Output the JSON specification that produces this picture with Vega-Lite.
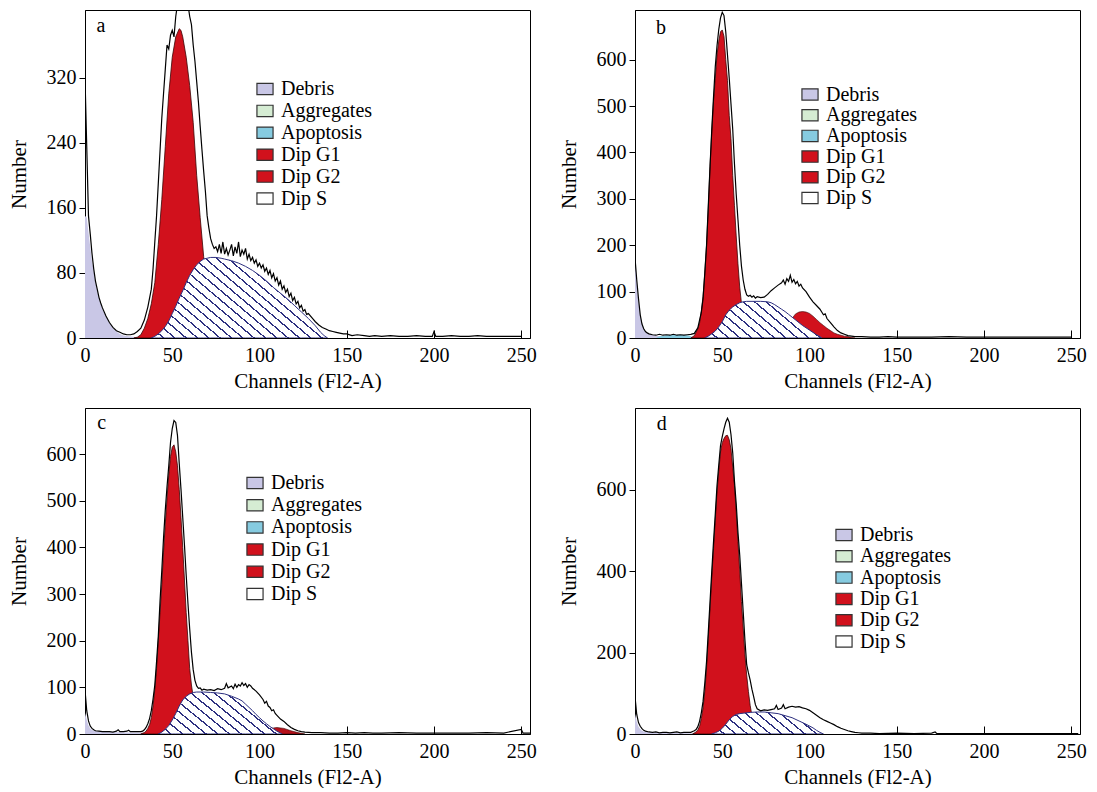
{
"$schema": "https://vega.github.io/schema/vega-lite/v6.json",
"background": "white",
"padding": {"left": 7, "top": 9, "right": 5, "bottom": 0},
"datasets": {
"a_tot": [{"ch":0,"n":320},{"ch":1,"n":235},{"ch":2,"n":150},{"ch":3,"n":128},{"ch":4,"n":104},{"ch":5,"n":85},{"ch":6,"n":70},{"ch":7,"n":60},{"ch":8,"n":50},{"ch":9,"n":43},{"ch":10,"n":37},{"ch":12,"n":27},{"ch":14,"n":19},{"ch":16,"n":13},{"ch":18,"n":9},{"ch":20,"n":7},{"ch":22,"n":5},{"ch":24,"n":4},{"ch":26,"n":4},{"ch":28,"n":5},{"ch":30,"n":8},{"ch":32,"n":12},{"ch":34,"n":22},{"ch":36,"n":38},{"ch":38,"n":60},{"ch":39,"n":85},{"ch":40,"n":118},{"ch":41,"n":150},{"ch":42,"n":190},{"ch":43,"n":230},{"ch":44,"n":270},{"ch":45,"n":300},{"ch":46,"n":330},{"ch":47,"n":360},{"ch":48,"n":355},{"ch":49,"n":372},{"ch":50,"n":378},{"ch":51,"n":370},{"ch":52,"n":395},{"ch":53,"n":410},{"ch":54,"n":415},{"ch":56,"n":415},{"ch":58,"n":415},{"ch":59,"n":410},{"ch":60,"n":395},{"ch":61,"n":385},{"ch":62,"n":360},{"ch":63,"n":340},{"ch":64,"n":315},{"ch":65,"n":290},{"ch":66,"n":260},{"ch":67,"n":232},{"ch":68,"n":205},{"ch":69,"n":180},{"ch":70,"n":150},{"ch":71,"n":135},{"ch":72,"n":122},{"ch":73,"n":115},{"ch":74,"n":110},{"ch":75,"n":112},{"ch":76,"n":106},{"ch":77,"n":115},{"ch":78,"n":104},{"ch":79,"n":118},{"ch":80,"n":103},{"ch":81,"n":110},{"ch":82,"n":102},{"ch":83,"n":108},{"ch":84,"n":115},{"ch":85,"n":101},{"ch":86,"n":112},{"ch":87,"n":104},{"ch":88,"n":118},{"ch":89,"n":100},{"ch":90,"n":108},{"ch":91,"n":103},{"ch":92,"n":110},{"ch":93,"n":97},{"ch":94,"n":103},{"ch":95,"n":95},{"ch":96,"n":99},{"ch":97,"n":92},{"ch":98,"n":96},{"ch":99,"n":88},{"ch":100,"n":92},{"ch":101,"n":86},{"ch":102,"n":90},{"ch":103,"n":82},{"ch":104,"n":86},{"ch":105,"n":78},{"ch":106,"n":83},{"ch":107,"n":74},{"ch":108,"n":79},{"ch":109,"n":70},{"ch":110,"n":74},{"ch":111,"n":65},{"ch":112,"n":70},{"ch":113,"n":60},{"ch":114,"n":64},{"ch":115,"n":56},{"ch":116,"n":60},{"ch":117,"n":51},{"ch":118,"n":55},{"ch":119,"n":46},{"ch":120,"n":50},{"ch":121,"n":42},{"ch":122,"n":45},{"ch":123,"n":37},{"ch":124,"n":40},{"ch":125,"n":33},{"ch":126,"n":35},{"ch":127,"n":29},{"ch":128,"n":30},{"ch":130,"n":25},{"ch":132,"n":20},{"ch":134,"n":16},{"ch":136,"n":13},{"ch":138,"n":11},{"ch":140,"n":9},{"ch":142,"n":8},{"ch":144,"n":7},{"ch":146,"n":6},{"ch":148,"n":5},{"ch":150,"n":5},{"ch":153,"n":3},{"ch":156,"n":4},{"ch":160,"n":3},{"ch":163,"n":2},{"ch":166,"n":3},{"ch":170,"n":2},{"ch":175,"n":3},{"ch":180,"n":2},{"ch":185,"n":2},{"ch":190,"n":3},{"ch":195,"n":2},{"ch":199,"n":2},{"ch":200,"n":8},{"ch":201,"n":2},{"ch":205,"n":2},{"ch":210,"n":3},{"ch":215,"n":2},{"ch":220,"n":2},{"ch":225,"n":3},{"ch":230,"n":2},{"ch":235,"n":2},{"ch":240,"n":2},{"ch":245,"n":2},{"ch":250,"n":2}],
"a_deb": [{"ch":0,"n":150},{"ch":1,"n":148},{"ch":2,"n":130},{"ch":3,"n":112},{"ch":4,"n":95},{"ch":5,"n":82},{"ch":6,"n":68},{"ch":7,"n":58},{"ch":8,"n":49},{"ch":9,"n":42},{"ch":10,"n":36},{"ch":12,"n":26},{"ch":14,"n":18},{"ch":16,"n":12},{"ch":18,"n":8},{"ch":20,"n":5},{"ch":22,"n":3},{"ch":25,"n":2},{"ch":30,"n":1},{"ch":35,"n":0}],
"a_g1": [{"ch":28,"n":0},{"ch":30,"n":1},{"ch":32,"n":4},{"ch":34,"n":12},{"ch":36,"n":24},{"ch":38,"n":42},{"ch":40,"n":68},{"ch":42,"n":115},{"ch":44,"n":170},{"ch":46,"n":235},{"ch":48,"n":300},{"ch":50,"n":345},{"ch":52,"n":370},{"ch":54,"n":380},{"ch":55,"n":378},{"ch":56,"n":370},{"ch":58,"n":345},{"ch":60,"n":310},{"ch":62,"n":265},{"ch":64,"n":200},{"ch":66,"n":148},{"ch":68,"n":100},{"ch":70,"n":60},{"ch":72,"n":35},{"ch":74,"n":18},{"ch":76,"n":8},{"ch":78,"n":3},{"ch":80,"n":0}],
"a_s": [{"ch":38,"n":0},{"ch":40,"n":2},{"ch":42,"n":5},{"ch":44,"n":9},{"ch":46,"n":14},{"ch":48,"n":21},{"ch":50,"n":30},{"ch":52,"n":39},{"ch":54,"n":49},{"ch":56,"n":58},{"ch":58,"n":68},{"ch":60,"n":77},{"ch":62,"n":84},{"ch":64,"n":90},{"ch":66,"n":94},{"ch":68,"n":97},{"ch":70,"n":98},{"ch":72,"n":99},{"ch":75,"n":99},{"ch":78,"n":98},{"ch":80,"n":97},{"ch":84,"n":95},{"ch":88,"n":92},{"ch":92,"n":88},{"ch":96,"n":83},{"ch":100,"n":77},{"ch":104,"n":70},{"ch":108,"n":62},{"ch":112,"n":55},{"ch":116,"n":48},{"ch":120,"n":40},{"ch":124,"n":32},{"ch":128,"n":24},{"ch":132,"n":15},{"ch":135,"n":7},{"ch":137,"n":3},{"ch":139,"n":0}],
"b_tot": [{"ch":0,"n":173},{"ch":1,"n":125},{"ch":2,"n":85},{"ch":3,"n":50},{"ch":4,"n":30},{"ch":5,"n":20},{"ch":6,"n":14},{"ch":7,"n":11},{"ch":8,"n":9},{"ch":10,"n":7},{"ch":12,"n":6},{"ch":14,"n":8},{"ch":16,"n":6},{"ch":18,"n":7},{"ch":20,"n":6},{"ch":22,"n":8},{"ch":24,"n":6},{"ch":26,"n":7},{"ch":28,"n":6},{"ch":30,"n":7},{"ch":32,"n":8},{"ch":34,"n":10},{"ch":36,"n":22},{"ch":38,"n":55},{"ch":39,"n":85},{"ch":40,"n":140},{"ch":41,"n":200},{"ch":42,"n":285},{"ch":43,"n":370},{"ch":44,"n":450},{"ch":45,"n":520},{"ch":46,"n":585},{"ch":47,"n":630},{"ch":48,"n":665},{"ch":49,"n":690},{"ch":50,"n":702},{"ch":51,"n":695},{"ch":52,"n":660},{"ch":53,"n":610},{"ch":54,"n":560},{"ch":55,"n":505},{"ch":56,"n":450},{"ch":57,"n":375},{"ch":58,"n":310},{"ch":59,"n":255},{"ch":60,"n":200},{"ch":61,"n":155},{"ch":62,"n":125},{"ch":63,"n":105},{"ch":64,"n":93},{"ch":65,"n":90},{"ch":66,"n":92},{"ch":67,"n":88},{"ch":68,"n":91},{"ch":69,"n":86},{"ch":70,"n":89},{"ch":72,"n":87},{"ch":74,"n":88},{"ch":76,"n":94},{"ch":78,"n":102},{"ch":80,"n":108},{"ch":82,"n":114},{"ch":84,"n":119},{"ch":85,"n":125},{"ch":86,"n":116},{"ch":87,"n":128},{"ch":88,"n":122},{"ch":89,"n":135},{"ch":90,"n":120},{"ch":91,"n":126},{"ch":92,"n":117},{"ch":93,"n":122},{"ch":94,"n":112},{"ch":95,"n":116},{"ch":96,"n":108},{"ch":98,"n":100},{"ch":100,"n":88},{"ch":102,"n":78},{"ch":104,"n":70},{"ch":106,"n":62},{"ch":107,"n":56},{"ch":108,"n":50},{"ch":109,"n":52},{"ch":110,"n":42},{"ch":112,"n":33},{"ch":114,"n":24},{"ch":116,"n":16},{"ch":118,"n":11},{"ch":120,"n":8},{"ch":122,"n":5},{"ch":124,"n":4},{"ch":126,"n":3},{"ch":130,"n":3},{"ch":135,"n":2},{"ch":140,"n":2},{"ch":145,"n":3},{"ch":150,"n":2},{"ch":160,"n":2},{"ch":170,"n":2},{"ch":180,"n":3},{"ch":190,"n":2},{"ch":200,"n":2},{"ch":210,"n":2},{"ch":220,"n":2},{"ch":230,"n":2},{"ch":240,"n":2},{"ch":250,"n":2}],
"b_deb": [{"ch":0,"n":170},{"ch":1,"n":120},{"ch":2,"n":80},{"ch":3,"n":50},{"ch":4,"n":30},{"ch":5,"n":20},{"ch":6,"n":14},{"ch":7,"n":11},{"ch":8,"n":9},{"ch":10,"n":7},{"ch":12,"n":5},{"ch":15,"n":4},{"ch":20,"n":3},{"ch":25,"n":2},{"ch":30,"n":1},{"ch":35,"n":0}],
"b_apo": [{"ch":12,"n":0},{"ch":14,"n":4},{"ch":18,"n":6},{"ch":22,"n":7},{"ch":26,"n":7},{"ch":30,"n":6},{"ch":32,"n":4},{"ch":34,"n":0}],
"b_g1": [{"ch":32,"n":0},{"ch":34,"n":5},{"ch":36,"n":20},{"ch":37,"n":32},{"ch":38,"n":58},{"ch":39,"n":90},{"ch":40,"n":140},{"ch":41,"n":200},{"ch":42,"n":280},{"ch":43,"n":370},{"ch":44,"n":445},{"ch":45,"n":510},{"ch":46,"n":560},{"ch":47,"n":610},{"ch":48,"n":640},{"ch":49,"n":660},{"ch":50,"n":664},{"ch":51,"n":650},{"ch":52,"n":600},{"ch":53,"n":555},{"ch":54,"n":480},{"ch":55,"n":430},{"ch":56,"n":350},{"ch":57,"n":285},{"ch":58,"n":220},{"ch":59,"n":160},{"ch":60,"n":110},{"ch":61,"n":75},{"ch":62,"n":50},{"ch":64,"n":25},{"ch":66,"n":10},{"ch":68,"n":3},{"ch":70,"n":0}],
"b_g2": [{"ch":86,"n":0},{"ch":88,"n":30},{"ch":90,"n":42},{"ch":92,"n":52},{"ch":94,"n":56},{"ch":96,"n":57},{"ch":98,"n":56},{"ch":100,"n":53},{"ch":102,"n":47},{"ch":104,"n":40},{"ch":106,"n":33},{"ch":108,"n":27},{"ch":110,"n":21},{"ch":112,"n":16},{"ch":114,"n":11},{"ch":116,"n":8},{"ch":118,"n":6},{"ch":120,"n":4},{"ch":122,"n":3},{"ch":124,"n":1},{"ch":126,"n":0}],
"b_s": [{"ch":40,"n":0},{"ch":42,"n":4},{"ch":44,"n":9},{"ch":46,"n":15},{"ch":48,"n":24},{"ch":50,"n":35},{"ch":52,"n":50},{"ch":54,"n":60},{"ch":56,"n":67},{"ch":58,"n":72},{"ch":60,"n":76},{"ch":62,"n":78},{"ch":64,"n":79},{"ch":68,"n":79},{"ch":72,"n":79},{"ch":76,"n":78},{"ch":78,"n":76},{"ch":80,"n":72},{"ch":82,"n":67},{"ch":84,"n":62},{"ch":86,"n":57},{"ch":88,"n":51},{"ch":90,"n":45},{"ch":92,"n":39},{"ch":94,"n":33},{"ch":96,"n":27},{"ch":98,"n":22},{"ch":100,"n":17},{"ch":102,"n":12},{"ch":104,"n":7},{"ch":106,"n":3},{"ch":107,"n":0}],
"c_tot": [{"ch":0,"n":94},{"ch":1,"n":50},{"ch":2,"n":28},{"ch":3,"n":17},{"ch":4,"n":12},{"ch":5,"n":9},{"ch":6,"n":7},{"ch":8,"n":6},{"ch":10,"n":5},{"ch":12,"n":5},{"ch":14,"n":5},{"ch":16,"n":4},{"ch":18,"n":6},{"ch":19,"n":9},{"ch":20,"n":5},{"ch":22,"n":5},{"ch":24,"n":6},{"ch":25,"n":8},{"ch":26,"n":5},{"ch":28,"n":5},{"ch":30,"n":5},{"ch":32,"n":5},{"ch":33,"n":6},{"ch":34,"n":9},{"ch":35,"n":14},{"ch":36,"n":22},{"ch":37,"n":33},{"ch":38,"n":50},{"ch":39,"n":75},{"ch":40,"n":105},{"ch":41,"n":155},{"ch":42,"n":210},{"ch":43,"n":285},{"ch":44,"n":350},{"ch":45,"n":420},{"ch":46,"n":480},{"ch":47,"n":530},{"ch":48,"n":575},{"ch":49,"n":625},{"ch":50,"n":655},{"ch":51,"n":672},{"ch":52,"n":668},{"ch":53,"n":640},{"ch":54,"n":580},{"ch":55,"n":525},{"ch":56,"n":465},{"ch":57,"n":405},{"ch":58,"n":340},{"ch":59,"n":280},{"ch":60,"n":225},{"ch":61,"n":175},{"ch":62,"n":138},{"ch":63,"n":115},{"ch":64,"n":103},{"ch":65,"n":98},{"ch":66,"n":99},{"ch":67,"n":94},{"ch":68,"n":96},{"ch":70,"n":94},{"ch":72,"n":95},{"ch":74,"n":93},{"ch":76,"n":97},{"ch":78,"n":95},{"ch":80,"n":98},{"ch":81,"n":108},{"ch":82,"n":99},{"ch":84,"n":103},{"ch":85,"n":97},{"ch":86,"n":107},{"ch":87,"n":100},{"ch":88,"n":106},{"ch":89,"n":103},{"ch":90,"n":110},{"ch":91,"n":104},{"ch":92,"n":108},{"ch":93,"n":100},{"ch":94,"n":106},{"ch":95,"n":103},{"ch":96,"n":98},{"ch":98,"n":92},{"ch":100,"n":84},{"ch":102,"n":74},{"ch":103,"n":66},{"ch":104,"n":70},{"ch":105,"n":60},{"ch":106,"n":57},{"ch":107,"n":50},{"ch":108,"n":52},{"ch":109,"n":44},{"ch":110,"n":40},{"ch":112,"n":32},{"ch":114,"n":27},{"ch":116,"n":20},{"ch":118,"n":14},{"ch":120,"n":10},{"ch":122,"n":7},{"ch":124,"n":5},{"ch":126,"n":4},{"ch":130,"n":3},{"ch":135,"n":3},{"ch":140,"n":2},{"ch":145,"n":2},{"ch":150,"n":3},{"ch":155,"n":2},{"ch":160,"n":3},{"ch":165,"n":2},{"ch":170,"n":2},{"ch":180,"n":3},{"ch":190,"n":2},{"ch":200,"n":2},{"ch":210,"n":2},{"ch":220,"n":2},{"ch":230,"n":3},{"ch":240,"n":2},{"ch":250,"n":10},{"ch":251,"n":2},{"ch":255,"n":2}],
"c_deb": [{"ch":0,"n":45},{"ch":1,"n":30},{"ch":2,"n":18},{"ch":3,"n":12},{"ch":4,"n":9},{"ch":5,"n":7},{"ch":7,"n":6},{"ch":10,"n":5},{"ch":15,"n":4},{"ch":20,"n":4},{"ch":25,"n":3},{"ch":30,"n":3},{"ch":35,"n":2},{"ch":40,"n":1},{"ch":45,"n":0}],
"c_g1": [{"ch":32,"n":0},{"ch":34,"n":3},{"ch":35,"n":6},{"ch":36,"n":12},{"ch":37,"n":20},{"ch":38,"n":35},{"ch":39,"n":60},{"ch":40,"n":95},{"ch":41,"n":140},{"ch":42,"n":200},{"ch":43,"n":260},{"ch":44,"n":320},{"ch":45,"n":390},{"ch":46,"n":450},{"ch":47,"n":505},{"ch":48,"n":555},{"ch":49,"n":595},{"ch":50,"n":615},{"ch":51,"n":620},{"ch":52,"n":605},{"ch":53,"n":575},{"ch":54,"n":525},{"ch":55,"n":465},{"ch":56,"n":400},{"ch":57,"n":330},{"ch":58,"n":260},{"ch":59,"n":200},{"ch":60,"n":140},{"ch":61,"n":105},{"ch":62,"n":80},{"ch":64,"n":40},{"ch":66,"n":15},{"ch":68,"n":5},{"ch":70,"n":0}],
"c_g2": [{"ch":96,"n":0},{"ch":100,"n":5},{"ch":104,"n":10},{"ch":108,"n":13},{"ch":110,"n":14},{"ch":114,"n":12},{"ch":118,"n":7},{"ch":122,"n":3},{"ch":126,"n":0}],
"c_s": [{"ch":42,"n":0},{"ch":44,"n":4},{"ch":46,"n":10},{"ch":48,"n":18},{"ch":50,"n":30},{"ch":52,"n":44},{"ch":54,"n":60},{"ch":56,"n":73},{"ch":58,"n":81},{"ch":60,"n":86},{"ch":62,"n":89},{"ch":64,"n":90},{"ch":68,"n":90},{"ch":72,"n":89},{"ch":76,"n":88},{"ch":80,"n":86},{"ch":84,"n":81},{"ch":88,"n":75},{"ch":90,"n":71},{"ch":92,"n":64},{"ch":94,"n":57},{"ch":96,"n":50},{"ch":98,"n":42},{"ch":100,"n":35},{"ch":102,"n":28},{"ch":104,"n":22},{"ch":106,"n":16},{"ch":108,"n":11},{"ch":110,"n":6},{"ch":112,"n":2},{"ch":113,"n":0}],
"d_tot": [{"ch":0,"n":92},{"ch":1,"n":48},{"ch":2,"n":28},{"ch":3,"n":19},{"ch":4,"n":13},{"ch":5,"n":9},{"ch":6,"n":7},{"ch":8,"n":5},{"ch":10,"n":4},{"ch":12,"n":5},{"ch":14,"n":3},{"ch":16,"n":4},{"ch":18,"n":4},{"ch":20,"n":3},{"ch":22,"n":4},{"ch":24,"n":5},{"ch":26,"n":3},{"ch":28,"n":4},{"ch":30,"n":4},{"ch":32,"n":4},{"ch":33,"n":6},{"ch":34,"n":8},{"ch":35,"n":11},{"ch":36,"n":18},{"ch":37,"n":31},{"ch":38,"n":52},{"ch":39,"n":80},{"ch":40,"n":125},{"ch":41,"n":178},{"ch":42,"n":250},{"ch":43,"n":325},{"ch":44,"n":400},{"ch":45,"n":472},{"ch":46,"n":540},{"ch":47,"n":610},{"ch":48,"n":660},{"ch":49,"n":708},{"ch":50,"n":730},{"ch":51,"n":749},{"ch":52,"n":765},{"ch":53,"n":775},{"ch":54,"n":765},{"ch":55,"n":735},{"ch":56,"n":690},{"ch":57,"n":620},{"ch":58,"n":565},{"ch":59,"n":495},{"ch":60,"n":440},{"ch":61,"n":370},{"ch":62,"n":300},{"ch":63,"n":230},{"ch":64,"n":170},{"ch":65,"n":150},{"ch":66,"n":132},{"ch":67,"n":110},{"ch":68,"n":92},{"ch":69,"n":72},{"ch":70,"n":62},{"ch":72,"n":57},{"ch":74,"n":59},{"ch":76,"n":58},{"ch":78,"n":60},{"ch":80,"n":62},{"ch":81,"n":70},{"ch":82,"n":60},{"ch":84,"n":64},{"ch":85,"n":72},{"ch":86,"n":62},{"ch":88,"n":66},{"ch":90,"n":68},{"ch":92,"n":66},{"ch":94,"n":67},{"ch":96,"n":64},{"ch":98,"n":62},{"ch":100,"n":58},{"ch":102,"n":52},{"ch":104,"n":46},{"ch":106,"n":40},{"ch":108,"n":35},{"ch":110,"n":31},{"ch":112,"n":27},{"ch":114,"n":23},{"ch":116,"n":18},{"ch":118,"n":14},{"ch":120,"n":11},{"ch":122,"n":8},{"ch":124,"n":6},{"ch":126,"n":4},{"ch":128,"n":3},{"ch":130,"n":2},{"ch":135,"n":2},{"ch":140,"n":1},{"ch":150,"n":2},{"ch":160,"n":1},{"ch":170,"n":2},{"ch":172,"n":5},{"ch":173,"n":1},{"ch":180,"n":1},{"ch":190,"n":1},{"ch":200,"n":1},{"ch":210,"n":1},{"ch":220,"n":1},{"ch":230,"n":1},{"ch":240,"n":1},{"ch":250,"n":1},{"ch":254,"n":1}],
"d_deb": [{"ch":0,"n":50},{"ch":1,"n":30},{"ch":2,"n":18},{"ch":3,"n":12},{"ch":4,"n":8},{"ch":5,"n":6},{"ch":7,"n":5},{"ch":10,"n":4},{"ch":15,"n":3},{"ch":20,"n":3},{"ch":30,"n":2},{"ch":40,"n":1},{"ch":45,"n":0}],
"d_g1": [{"ch":33,"n":0},{"ch":35,"n":5},{"ch":36,"n":10},{"ch":37,"n":19},{"ch":38,"n":38},{"ch":39,"n":64},{"ch":40,"n":105},{"ch":41,"n":162},{"ch":42,"n":235},{"ch":43,"n":308},{"ch":44,"n":385},{"ch":45,"n":455},{"ch":46,"n":525},{"ch":47,"n":594},{"ch":48,"n":645},{"ch":49,"n":692},{"ch":50,"n":715},{"ch":51,"n":725},{"ch":52,"n":732},{"ch":53,"n":733},{"ch":54,"n":722},{"ch":55,"n":700},{"ch":56,"n":655},{"ch":57,"n":610},{"ch":58,"n":545},{"ch":59,"n":472},{"ch":60,"n":400},{"ch":61,"n":325},{"ch":62,"n":260},{"ch":63,"n":194},{"ch":64,"n":145},{"ch":65,"n":104},{"ch":66,"n":70},{"ch":67,"n":45},{"ch":68,"n":28},{"ch":70,"n":10},{"ch":72,"n":3},{"ch":74,"n":0}],
"d_s": [{"ch":44,"n":0},{"ch":46,"n":3},{"ch":48,"n":7},{"ch":50,"n":14},{"ch":52,"n":24},{"ch":54,"n":35},{"ch":56,"n":43},{"ch":58,"n":48},{"ch":60,"n":50},{"ch":62,"n":51},{"ch":66,"n":53},{"ch":70,"n":54},{"ch":74,"n":54},{"ch":78,"n":52},{"ch":82,"n":50},{"ch":86,"n":45},{"ch":90,"n":40},{"ch":94,"n":32},{"ch":98,"n":24},{"ch":102,"n":15},{"ch":104,"n":9},{"ch":106,"n":4},{"ch":108,"n":0}]
},
"resolve": {"scale": {"color": "independent"}, "legend": {"color": "independent"}},
"spacing": 15,
"vconcat": [
{"hconcat": [
{"width": 445, "height": 328,
"layer": [
{"data": {"name": "a_deb"}, "mark": {"type": "area", "opacity": 1, "clip": true},
 "encoding": {"x": {"field": "ch", "type": "quantitative", "scale": {"domain": [0, 255], "nice": false}, "axis": {"values": [0,50,100,150,200,250], "title": "Channels (Fl2-A)"}},
  "y": {"field": "n", "type": "quantitative", "stack": null, "scale": {"domain": [0, 403], "nice": false}, "axis": {"values": [0,80,160,240,320], "title": "Number"}},
  "color": {"datum": "Debris", "type": "nominal", "scale": {"domain": ["Debris","Aggregates","Apoptosis","Dip G1","Dip G2","Dip S"], "range": ["#c9c7e6","#d5ecd3","#86cbe0","#d1111c","#d1111c","#ffffff"]}, "legend": {"orient": "none", "legendX": 170, "legendY": 69, "title": null, "rowPadding": 1.9}}}},
{"data": {"name": "a_g1"}, "mark": {"type": "area", "fill": "#d1111c", "stroke": "#3a0505", "strokeWidth": 0.8, "clip": true},
 "encoding": {"x": {"field": "ch", "type": "quantitative"}, "y": {"field": "n", "type": "quantitative", "stack": null}}},
{"data": {"name": "a_s"}, "mark": {"type": "area", "stroke": "#2e3080", "strokeWidth": 1, "clip": true,
 "fill": {"gradient": "linear", "x1": 0, "y1": 1, "x2": 1.192, "y2": 0.355, "stops": [
{"offset":0,"color":"#fff"},{"offset":0,"color":"#2e3080"},{"offset":0.0075,"color":"#2e3080"},{"offset":0.0075,"color":"#fff"},
{"offset":0.0417,"color":"#fff"},{"offset":0.0417,"color":"#2e3080"},{"offset":0.0492,"color":"#2e3080"},{"offset":0.0492,"color":"#fff"},
{"offset":0.0833,"color":"#fff"},{"offset":0.0833,"color":"#2e3080"},{"offset":0.0908,"color":"#2e3080"},{"offset":0.0908,"color":"#fff"},
{"offset":0.125,"color":"#fff"},{"offset":0.125,"color":"#2e3080"},{"offset":0.1325,"color":"#2e3080"},{"offset":0.1325,"color":"#fff"},
{"offset":0.1667,"color":"#fff"},{"offset":0.1667,"color":"#2e3080"},{"offset":0.1742,"color":"#2e3080"},{"offset":0.1742,"color":"#fff"},
{"offset":0.2083,"color":"#fff"},{"offset":0.2083,"color":"#2e3080"},{"offset":0.2158,"color":"#2e3080"},{"offset":0.2158,"color":"#fff"},
{"offset":0.25,"color":"#fff"},{"offset":0.25,"color":"#2e3080"},{"offset":0.2575,"color":"#2e3080"},{"offset":0.2575,"color":"#fff"},
{"offset":0.2917,"color":"#fff"},{"offset":0.2917,"color":"#2e3080"},{"offset":0.2992,"color":"#2e3080"},{"offset":0.2992,"color":"#fff"},
{"offset":0.3333,"color":"#fff"},{"offset":0.3333,"color":"#2e3080"},{"offset":0.3408,"color":"#2e3080"},{"offset":0.3408,"color":"#fff"},
{"offset":0.375,"color":"#fff"},{"offset":0.375,"color":"#2e3080"},{"offset":0.3825,"color":"#2e3080"},{"offset":0.3825,"color":"#fff"},
{"offset":0.4167,"color":"#fff"},{"offset":0.4167,"color":"#2e3080"},{"offset":0.4242,"color":"#2e3080"},{"offset":0.4242,"color":"#fff"},
{"offset":0.4583,"color":"#fff"},{"offset":0.4583,"color":"#2e3080"},{"offset":0.4658,"color":"#2e3080"},{"offset":0.4658,"color":"#fff"},
{"offset":0.5,"color":"#fff"},{"offset":0.5,"color":"#2e3080"},{"offset":0.5075,"color":"#2e3080"},{"offset":0.5075,"color":"#fff"},
{"offset":0.5417,"color":"#fff"},{"offset":0.5417,"color":"#2e3080"},{"offset":0.5492,"color":"#2e3080"},{"offset":0.5492,"color":"#fff"},
{"offset":0.5833,"color":"#fff"},{"offset":0.5833,"color":"#2e3080"},{"offset":0.5908,"color":"#2e3080"},{"offset":0.5908,"color":"#fff"},
{"offset":0.625,"color":"#fff"},{"offset":0.625,"color":"#2e3080"},{"offset":0.6325,"color":"#2e3080"},{"offset":0.6325,"color":"#fff"},
{"offset":0.6667,"color":"#fff"},{"offset":0.6667,"color":"#2e3080"},{"offset":0.6742,"color":"#2e3080"},{"offset":0.6742,"color":"#fff"},
{"offset":0.7083,"color":"#fff"},{"offset":0.7083,"color":"#2e3080"},{"offset":0.7158,"color":"#2e3080"},{"offset":0.7158,"color":"#fff"},
{"offset":0.75,"color":"#fff"},{"offset":0.75,"color":"#2e3080"},{"offset":0.7575,"color":"#2e3080"},{"offset":0.7575,"color":"#fff"},
{"offset":0.7917,"color":"#fff"},{"offset":0.7917,"color":"#2e3080"},{"offset":0.7992,"color":"#2e3080"},{"offset":0.7992,"color":"#fff"},
{"offset":0.8333,"color":"#fff"},{"offset":0.8333,"color":"#2e3080"},{"offset":0.8408,"color":"#2e3080"},{"offset":0.8408,"color":"#fff"},
{"offset":0.875,"color":"#fff"},{"offset":0.875,"color":"#2e3080"},{"offset":0.8825,"color":"#2e3080"},{"offset":0.8825,"color":"#fff"},
{"offset":0.9167,"color":"#fff"},{"offset":0.9167,"color":"#2e3080"},{"offset":0.9242,"color":"#2e3080"},{"offset":0.9242,"color":"#fff"},
{"offset":0.9583,"color":"#fff"},{"offset":0.9583,"color":"#2e3080"},{"offset":0.9658,"color":"#2e3080"},{"offset":0.9658,"color":"#fff"},
{"offset":1,"color":"#fff"}]}},
 "encoding": {"x": {"field": "ch", "type": "quantitative"}, "y": {"field": "n", "type": "quantitative", "stack": null}}},
{"data": {"name": "a_tot"}, "mark": {"type": "line", "color": "#000", "strokeWidth": 1.2, "clip": true},
 "encoding": {"x": {"field": "ch", "type": "quantitative"}, "y": {"field": "n", "type": "quantitative", "stack": null}}},
{"data": {"values": [{}]}, "mark": {"type": "text", "text": "a", "font": "Liberation Serif", "fontSize": 20, "align": "left", "baseline": "alphabetic", "color": "#000"},
 "encoding": {"x": {"datum": 6.6, "type": "quantitative"}, "y": {"datum": 376, "type": "quantitative"}}}
]},
{"width": 445, "height": 328,
"layer": [
{"data": {"name": "b_deb"}, "mark": {"type": "area", "opacity": 1, "clip": true},
 "encoding": {"x": {"field": "ch", "type": "quantitative", "scale": {"domain": [0, 255], "nice": false}, "axis": {"values": [0,50,100,150,200,250], "title": "Channels (Fl2-A)"}},
  "y": {"field": "n", "type": "quantitative", "stack": null, "scale": {"domain": [0, 707], "nice": false}, "axis": {"values": [0,100,200,300,400,500,600], "title": "Number"}},
  "color": {"datum": "Debris", "type": "nominal", "scale": {"domain": ["Debris","Aggregates","Apoptosis","Dip G1","Dip G2","Dip S"], "range": ["#c9c7e6","#d5ecd3","#86cbe0","#d1111c","#d1111c","#ffffff"]}, "legend": {"orient": "none", "legendX": 165, "legendY": 74.5, "title": null, "rowPadding": 0.7}}}},
{"data": {"name": "b_apo"}, "mark": {"type": "area", "fill": "#86cbe0", "clip": true},
 "encoding": {"x": {"field": "ch", "type": "quantitative"}, "y": {"field": "n", "type": "quantitative", "stack": null}}},
{"data": {"name": "b_g1"}, "mark": {"type": "area", "fill": "#d1111c", "stroke": "#3a0505", "strokeWidth": 0.8, "clip": true},
 "encoding": {"x": {"field": "ch", "type": "quantitative"}, "y": {"field": "n", "type": "quantitative", "stack": null}}},
{"data": {"name": "b_g2"}, "mark": {"type": "area", "fill": "#d1111c", "stroke": "#3a0505", "strokeWidth": 0.6, "clip": true},
 "encoding": {"x": {"field": "ch", "type": "quantitative"}, "y": {"field": "n", "type": "quantitative", "stack": null}}},
{"data": {"name": "b_s"}, "mark": {"type": "area", "stroke": "#2e3080", "strokeWidth": 1, "clip": true,
 "fill": {"gradient": "linear", "x1": 0, "y1": 1, "x2": 1.205, "y2": 0.553, "stops": [
{"offset":0,"color":"#fff"},{"offset":0,"color":"#2e3080"},{"offset":0.0129,"color":"#2e3080"},{"offset":0.0129,"color":"#fff"},
{"offset":0.0714,"color":"#fff"},{"offset":0.0714,"color":"#2e3080"},{"offset":0.0843,"color":"#2e3080"},{"offset":0.0843,"color":"#fff"},
{"offset":0.1429,"color":"#fff"},{"offset":0.1429,"color":"#2e3080"},{"offset":0.1558,"color":"#2e3080"},{"offset":0.1558,"color":"#fff"},
{"offset":0.2143,"color":"#fff"},{"offset":0.2143,"color":"#2e3080"},{"offset":0.2272,"color":"#2e3080"},{"offset":0.2272,"color":"#fff"},
{"offset":0.2857,"color":"#fff"},{"offset":0.2857,"color":"#2e3080"},{"offset":0.2986,"color":"#2e3080"},{"offset":0.2986,"color":"#fff"},
{"offset":0.3571,"color":"#fff"},{"offset":0.3571,"color":"#2e3080"},{"offset":0.3700,"color":"#2e3080"},{"offset":0.3700,"color":"#fff"},
{"offset":0.4286,"color":"#fff"},{"offset":0.4286,"color":"#2e3080"},{"offset":0.4415,"color":"#2e3080"},{"offset":0.4415,"color":"#fff"},
{"offset":0.5,"color":"#fff"},{"offset":0.5,"color":"#2e3080"},{"offset":0.5129,"color":"#2e3080"},{"offset":0.5129,"color":"#fff"},
{"offset":0.5714,"color":"#fff"},{"offset":0.5714,"color":"#2e3080"},{"offset":0.5843,"color":"#2e3080"},{"offset":0.5843,"color":"#fff"},
{"offset":0.6429,"color":"#fff"},{"offset":0.6429,"color":"#2e3080"},{"offset":0.6558,"color":"#2e3080"},{"offset":0.6558,"color":"#fff"},
{"offset":0.7143,"color":"#fff"},{"offset":0.7143,"color":"#2e3080"},{"offset":0.7272,"color":"#2e3080"},{"offset":0.7272,"color":"#fff"},
{"offset":0.7857,"color":"#fff"},{"offset":0.7857,"color":"#2e3080"},{"offset":0.7986,"color":"#2e3080"},{"offset":0.7986,"color":"#fff"},
{"offset":0.8571,"color":"#fff"},{"offset":0.8571,"color":"#2e3080"},{"offset":0.8700,"color":"#2e3080"},{"offset":0.8700,"color":"#fff"},
{"offset":0.9286,"color":"#fff"},{"offset":0.9286,"color":"#2e3080"},{"offset":0.9415,"color":"#2e3080"},{"offset":0.9415,"color":"#fff"},
{"offset":1,"color":"#fff"}]}},
 "encoding": {"x": {"field": "ch", "type": "quantitative"}, "y": {"field": "n", "type": "quantitative", "stack": null}}},
{"data": {"name": "b_tot"}, "mark": {"type": "line", "color": "#000", "strokeWidth": 1.2, "clip": true},
 "encoding": {"x": {"field": "ch", "type": "quantitative"}, "y": {"field": "n", "type": "quantitative", "stack": null}}},
{"data": {"values": [{}]}, "mark": {"type": "text", "text": "b", "font": "Liberation Serif", "fontSize": 20, "align": "left", "baseline": "alphabetic", "color": "#000"},
 "encoding": {"x": {"datum": 12, "type": "quantitative"}, "y": {"datum": 655, "type": "quantitative"}}}
]}
], "spacing": 20, "resolve": {"scale": {"color": "independent"}, "legend": {"color": "independent"}}},
{"hconcat": [
{"width": 445, "height": 326,
"layer": [
{"data": {"name": "c_deb"}, "mark": {"type": "area", "opacity": 1, "clip": true},
 "encoding": {"x": {"field": "ch", "type": "quantitative", "scale": {"domain": [0, 255], "nice": false}, "axis": {"values": [0,50,100,150,200,250], "title": "Channels (Fl2-A)"}},
  "y": {"field": "n", "type": "quantitative", "stack": null, "scale": {"domain": [0, 699], "nice": false}, "axis": {"values": [0,100,200,300,400,500,600], "title": "Number"}},
  "color": {"datum": "Debris", "type": "nominal", "scale": {"domain": ["Debris","Aggregates","Apoptosis","Dip G1","Dip G2","Dip S"], "range": ["#c9c7e6","#d5ecd3","#86cbe0","#d1111c","#d1111c","#ffffff"]}, "legend": {"orient": "none", "legendX": 160, "legendY": 65, "title": null, "rowPadding": 2.2}}}},
{"data": {"name": "c_g1"}, "mark": {"type": "area", "fill": "#d1111c", "stroke": "#3a0505", "strokeWidth": 0.8, "clip": true},
 "encoding": {"x": {"field": "ch", "type": "quantitative"}, "y": {"field": "n", "type": "quantitative", "stack": null}}},
{"data": {"name": "c_g2"}, "mark": {"type": "area", "fill": "#b5101a", "stroke": "#3a0505", "strokeWidth": 0.6, "clip": true},
 "encoding": {"x": {"field": "ch", "type": "quantitative"}, "y": {"field": "n", "type": "quantitative", "stack": null}}},
{"data": {"name": "c_s"}, "mark": {"type": "area", "stroke": "#2e3080", "strokeWidth": 1, "clip": true,
 "fill": {"gradient": "linear", "x1": 0, "y1": 1, "x2": 1.207, "y2": 0.498, "stops": [
{"offset":0,"color":"#fff"},{"offset":0,"color":"#2e3080"},{"offset":0.012,"color":"#2e3080"},{"offset":0.012,"color":"#fff"},
{"offset":0.0667,"color":"#fff"},{"offset":0.0667,"color":"#2e3080"},{"offset":0.0787,"color":"#2e3080"},{"offset":0.0787,"color":"#fff"},
{"offset":0.1333,"color":"#fff"},{"offset":0.1333,"color":"#2e3080"},{"offset":0.1453,"color":"#2e3080"},{"offset":0.1453,"color":"#fff"},
{"offset":0.2,"color":"#fff"},{"offset":0.2,"color":"#2e3080"},{"offset":0.212,"color":"#2e3080"},{"offset":0.212,"color":"#fff"},
{"offset":0.2667,"color":"#fff"},{"offset":0.2667,"color":"#2e3080"},{"offset":0.2787,"color":"#2e3080"},{"offset":0.2787,"color":"#fff"},
{"offset":0.3333,"color":"#fff"},{"offset":0.3333,"color":"#2e3080"},{"offset":0.3453,"color":"#2e3080"},{"offset":0.3453,"color":"#fff"},
{"offset":0.4,"color":"#fff"},{"offset":0.4,"color":"#2e3080"},{"offset":0.412,"color":"#2e3080"},{"offset":0.412,"color":"#fff"},
{"offset":0.4667,"color":"#fff"},{"offset":0.4667,"color":"#2e3080"},{"offset":0.4787,"color":"#2e3080"},{"offset":0.4787,"color":"#fff"},
{"offset":0.5333,"color":"#fff"},{"offset":0.5333,"color":"#2e3080"},{"offset":0.5453,"color":"#2e3080"},{"offset":0.5453,"color":"#fff"},
{"offset":0.6,"color":"#fff"},{"offset":0.6,"color":"#2e3080"},{"offset":0.612,"color":"#2e3080"},{"offset":0.612,"color":"#fff"},
{"offset":0.6667,"color":"#fff"},{"offset":0.6667,"color":"#2e3080"},{"offset":0.6787,"color":"#2e3080"},{"offset":0.6787,"color":"#fff"},
{"offset":0.7333,"color":"#fff"},{"offset":0.7333,"color":"#2e3080"},{"offset":0.7453,"color":"#2e3080"},{"offset":0.7453,"color":"#fff"},
{"offset":0.8,"color":"#fff"},{"offset":0.8,"color":"#2e3080"},{"offset":0.812,"color":"#2e3080"},{"offset":0.812,"color":"#fff"},
{"offset":0.8667,"color":"#fff"},{"offset":0.8667,"color":"#2e3080"},{"offset":0.8787,"color":"#2e3080"},{"offset":0.8787,"color":"#fff"},
{"offset":0.9333,"color":"#fff"},{"offset":0.9333,"color":"#2e3080"},{"offset":0.9453,"color":"#2e3080"},{"offset":0.9453,"color":"#fff"},
{"offset":1,"color":"#fff"}]}},
 "encoding": {"x": {"field": "ch", "type": "quantitative"}, "y": {"field": "n", "type": "quantitative", "stack": null}}},
{"data": {"name": "c_tot"}, "mark": {"type": "line", "color": "#000", "strokeWidth": 1.2, "clip": true},
 "encoding": {"x": {"field": "ch", "type": "quantitative"}, "y": {"field": "n", "type": "quantitative", "stack": null}}},
{"data": {"values": [{}]}, "mark": {"type": "text", "text": "c", "font": "Liberation Serif", "fontSize": 20, "align": "left", "baseline": "alphabetic", "color": "#000"},
 "encoding": {"x": {"datum": 7, "type": "quantitative"}, "y": {"datum": 654, "type": "quantitative"}}}
]},
{"width": 445, "height": 326,
"layer": [
{"data": {"name": "d_deb"}, "mark": {"type": "area", "opacity": 1, "clip": true},
 "encoding": {"x": {"field": "ch", "type": "quantitative", "scale": {"domain": [0, 255], "nice": false}, "axis": {"values": [0,50,100,150,200,250], "title": "Channels (Fl2-A)"}},
  "y": {"field": "n", "type": "quantitative", "stack": null, "scale": {"domain": [0, 800], "nice": false}, "axis": {"values": [0,200,400,600], "title": "Number"}},
  "color": {"datum": "Debris", "type": "nominal", "scale": {"domain": ["Debris","Aggregates","Apoptosis","Dip G1","Dip G2","Dip S"], "range": ["#c9c7e6","#d5ecd3","#86cbe0","#d1111c","#d1111c","#ffffff"]}, "legend": {"orient": "none", "legendX": 199, "legendY": 117, "title": null, "rowPadding": 1.3}}}},
{"data": {"name": "d_g1"}, "mark": {"type": "area", "fill": "#d1111c", "stroke": "#3a0505", "strokeWidth": 0.8, "clip": true},
 "encoding": {"x": {"field": "ch", "type": "quantitative"}, "y": {"field": "n", "type": "quantitative", "stack": null}}},
{"data": {"name": "d_s"}, "mark": {"type": "area", "stroke": "#2e3080", "strokeWidth": 1, "clip": true,
 "fill": {"gradient": "linear", "x1": 0, "y1": 1, "x2": 1.172, "y2": 0.72, "stops": [
{"offset":0,"color":"#fff"},{"offset":0,"color":"#2e3080"},{"offset":0.015,"color":"#2e3080"},{"offset":0.015,"color":"#fff"},
{"offset":0.0833,"color":"#fff"},{"offset":0.0833,"color":"#2e3080"},{"offset":0.0983,"color":"#2e3080"},{"offset":0.0983,"color":"#fff"},
{"offset":0.1667,"color":"#fff"},{"offset":0.1667,"color":"#2e3080"},{"offset":0.1817,"color":"#2e3080"},{"offset":0.1817,"color":"#fff"},
{"offset":0.25,"color":"#fff"},{"offset":0.25,"color":"#2e3080"},{"offset":0.265,"color":"#2e3080"},{"offset":0.265,"color":"#fff"},
{"offset":0.3333,"color":"#fff"},{"offset":0.3333,"color":"#2e3080"},{"offset":0.3483,"color":"#2e3080"},{"offset":0.3483,"color":"#fff"},
{"offset":0.4167,"color":"#fff"},{"offset":0.4167,"color":"#2e3080"},{"offset":0.4317,"color":"#2e3080"},{"offset":0.4317,"color":"#fff"},
{"offset":0.5,"color":"#fff"},{"offset":0.5,"color":"#2e3080"},{"offset":0.515,"color":"#2e3080"},{"offset":0.515,"color":"#fff"},
{"offset":0.5833,"color":"#fff"},{"offset":0.5833,"color":"#2e3080"},{"offset":0.5983,"color":"#2e3080"},{"offset":0.5983,"color":"#fff"},
{"offset":0.6667,"color":"#fff"},{"offset":0.6667,"color":"#2e3080"},{"offset":0.6817,"color":"#2e3080"},{"offset":0.6817,"color":"#fff"},
{"offset":0.75,"color":"#fff"},{"offset":0.75,"color":"#2e3080"},{"offset":0.765,"color":"#2e3080"},{"offset":0.765,"color":"#fff"},
{"offset":0.8333,"color":"#fff"},{"offset":0.8333,"color":"#2e3080"},{"offset":0.8483,"color":"#2e3080"},{"offset":0.8483,"color":"#fff"},
{"offset":0.9167,"color":"#fff"},{"offset":0.9167,"color":"#2e3080"},{"offset":0.9317,"color":"#2e3080"},{"offset":0.9317,"color":"#fff"},
{"offset":1,"color":"#fff"}]}},
 "encoding": {"x": {"field": "ch", "type": "quantitative"}, "y": {"field": "n", "type": "quantitative", "stack": null}}},
{"data": {"name": "d_tot"}, "mark": {"type": "line", "color": "#000", "strokeWidth": 1.2, "clip": true},
 "encoding": {"x": {"field": "ch", "type": "quantitative"}, "y": {"field": "n", "type": "quantitative", "stack": null}}},
{"data": {"values": [{}]}, "mark": {"type": "text", "text": "d", "font": "Liberation Serif", "fontSize": 20, "align": "left", "baseline": "alphabetic", "color": "#000"},
 "encoding": {"x": {"datum": 12.4, "type": "quantitative"}, "y": {"datum": 746, "type": "quantitative"}}}
]}
], "spacing": 20, "resolve": {"scale": {"color": "independent"}, "legend": {"color": "independent"}}}
],
"config": {
 "view": {"stroke": "#000", "strokeWidth": 1},
 "axis": {"labelFont": "Liberation Serif", "labelFontSize": 20, "labelColor": "#000", "titleFont": "Liberation Serif", "titleFontWeight": "normal", "titleColor": "#000", "domainColor": "#000", "tickColor": "#000", "grid": false, "labelFlush": false, "labelOverlap": false},
 "axisX": {"tickSize": -8, "labelPadding": 15, "titleFontSize": 21, "titlePadding": 5},
 "axisY": {"tickSize": 6, "labelPadding": 3, "titleFontSize": 21, "titlePadding": 17},
 "legend": {"labelFont": "Liberation Serif", "labelFontSize": 20, "labelColor": "#000", "symbolType": "M-1,-0.7H1V0.7H-1Z", "symbolSize": 260, "symbolStrokeColor": "#333", "symbolStrokeWidth": 1.2, "symbolOpacity": 1, "labelOffset": 6, "padding": 0, "offset": 0}
}
}
